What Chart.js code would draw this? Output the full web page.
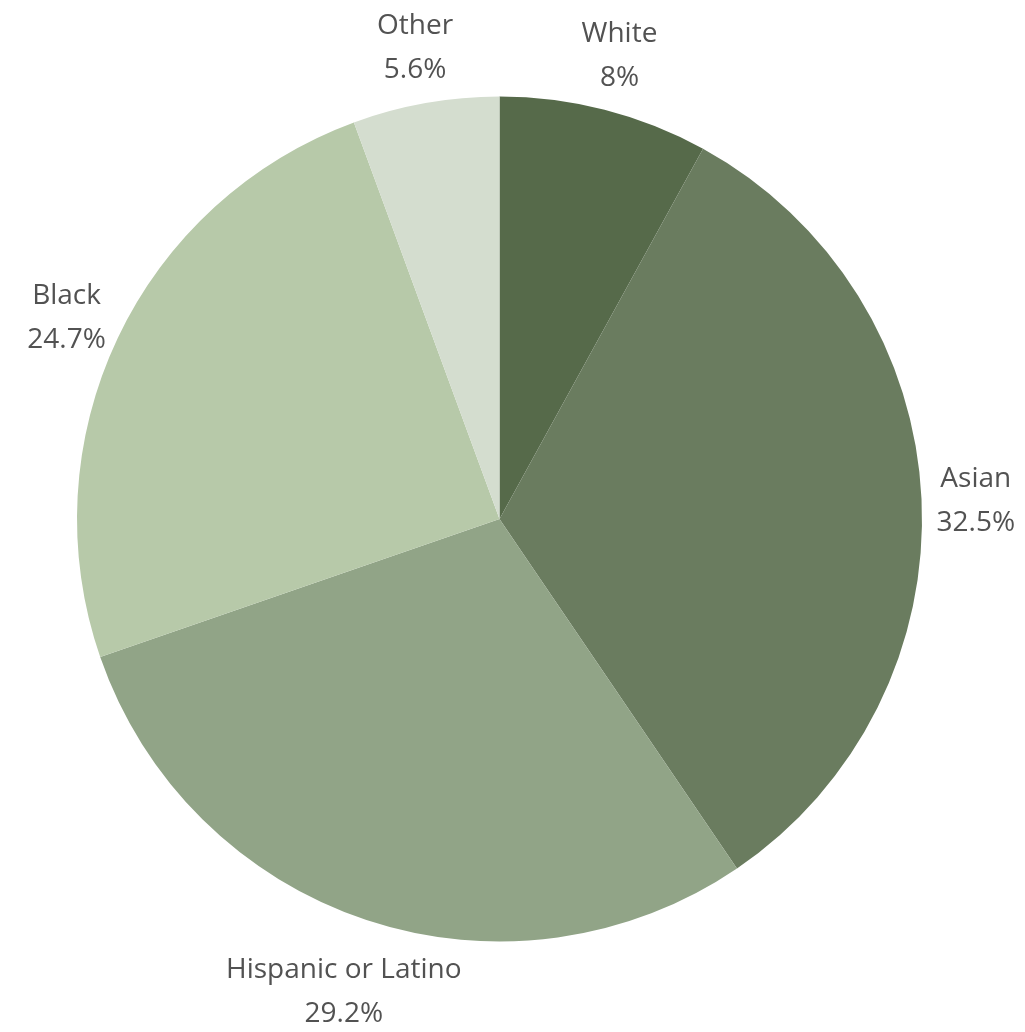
<!DOCTYPE html>
<html lang="en">

<head>
  <meta charset="UTF-8" />
  <title>Pie chart</title>
  <style>
    * {
      box-sizing: border-box;
      margin: 0;
      padding: 0;
    }

    html,
    body {
      width: 100%;
      height: 100%;
      background: #fff;
    }

    #wrap {
      width: 1025px;
      height: 1032px;
    }
  </style>
  <script src="https://cdn.jsdelivr.net/npm/chart.js@4/dist/chart.umd.min.js"></script>
</head>

<body>
  <div id="wrap">
    <canvas id="pie"></canvas>
  </div>

  <script>
    // data
    const categories = ['White', 'Asian', 'Hispanic or Latino', 'Black', 'Other'];
    const shares = [8, 32.5, 29.2, 24.7, 5.6];
    const sliceColors = ['#566a4a', '#6a7c5f', '#91a487', '#b7c9a9', '#d4ddcf'];

    // labels outside the pie, at each slice's mid angle
    const outsideLabels = {
      id: 'outsideLabels',
      afterDatasetsDraw(chart) {
        const c = chart.ctx;
        const meta = chart.getDatasetMeta(0);
        c.save();
        c.font = '28px "Open Sans"';
        c.fillStyle = '#525252';
        c.textAlign = 'center';
        c.textBaseline = 'middle';
        meta.data.forEach((arc, i) => {
          const l1 = categories[i], l2 = shares[i] + '%';
          const w = Math.max(c.measureText(l1).width, c.measureText(l2).width);
          const mid = (arc.startAngle + arc.endAngle) / 2;
          // wide labels sitting above/below the pie get pushed out a bit more
          const r = arc.outerRadius + 54 + 0.08 * w * Math.abs(Math.sin(mid));
          const x = arc.x + Math.cos(mid) * r;
          const y = arc.y + Math.sin(mid) * r + 4;
          c.fillText(l1, x, y - 22);
          c.fillText(l2, x, y + 22);
        });
        c.restore();
      }
    };

    new Chart(document.getElementById('pie'), {
      type: 'pie',
      data: {
        labels: categories,
        datasets: [{
          data: shares,
          backgroundColor: sliceColors,
          borderWidth: 0
        }]
      },
      options: {
        responsive: true,
        maintainAspectRatio: false,
        animation: false,
        layout: { padding: { left: 77, right: 103, top: 96, bottom: 90 } },
        plugins: {
          legend: { display: false },
          tooltip: { enabled: false }
        }
      },
      plugins: [outsideLabels]
    });
  </script>
</body>

</html>
